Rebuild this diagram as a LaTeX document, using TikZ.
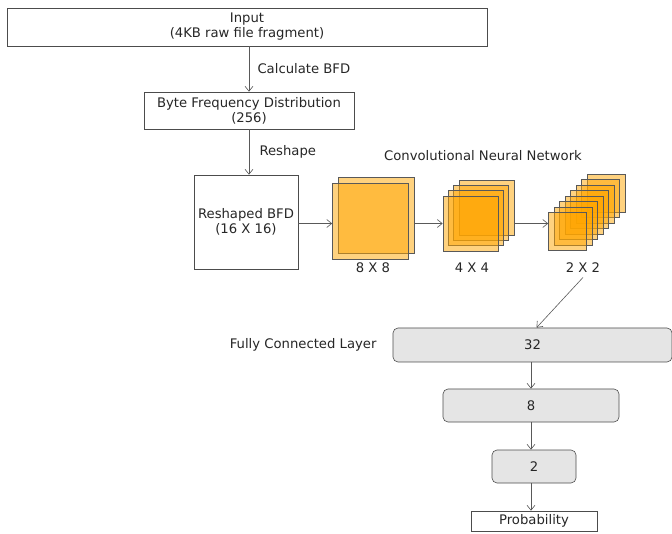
\documentclass[tikz,border=0pt]{standalone}
\usepackage{fontspec}
\setmainfont{DejaVu Sans}
\usepackage{tikz}
\usetikzlibrary{arrows.meta}
\definecolor{mapOrange}{HTML}{FFA500}

\tikzset{
    box/.style={draw=black!70, line width=0.6pt, align=center, inner sep=0pt},
    fcbox/.style={box, fill=black!10, rounded corners=5pt},
    fmap/.style={draw=black!65, line width=0.6pt, fill=mapOrange, fill opacity=0.5, inner sep=0pt},
    flow/.style={draw=black!65, line width=0.6pt, -{Straight Barb[length=5pt,width=8pt]}},
}

\begin{document}
\begin{tikzpicture}[x=1pt, y=-1pt, font=\fontsize{13.2}{15}\selectfont, text=black!85]
    \useasboundingbox (0,0) rectangle (672,534);

    % Draw the input part
    \node[box, minimum width=480pt, minimum height=38pt] (Input) at (247,27) {Input\\(4KB raw file fragment)};
    \node[box, minimum width=210pt, minimum height=37pt] (BFD) at (249,110.5) {Byte Frequency Distribution\\(256)};
    \node[box, minimum width=104pt, minimum height=94pt] (Reshaped) at (246,222) {Reshaped BFD\\(16 X 16)};

    % Connect the input part
    \draw[flow] (Input.south -| BFD.north) -- (BFD.north);
    \draw[flow] (BFD.south) -- (BFD.south |- Reshaped.north);
    \node[anchor=west] (CalcLabel) at (254,69) {Calculate BFD};
    \node[anchor=west] (ReshapeLabel) at (256,152) {Reshape};

    % Draw the feature maps, back to front
    \foreach \i in {1,0}
        \node[fmap, minimum size=76pt] (C1-\i) at (370.5+5.5*\i,221-5.5*\i) {};
    \foreach \i in {3,2,1,0}
        \node[fmap, minimum size=55pt] (C2-\i) at (470.5+5.33*\i,223.5-5.33*\i) {};
    \foreach \i in {7,6,...,0}
        \node[fmap, minimum size=38pt] (C3-\i) at (567.5+5.5*\i,231.5-5.5*\i) {};

    % Optional: Label the feature maps
    \node (CNNLabel) at (483,156) {Convolutional Neural Network};
    \node (L1) at (373,268) {8 X 8};
    \node (L2) at (472,268) {4 X 4};
    \node (L3) at (583,268) {2 X 2};

    % Connect the feature maps
    \draw[flow] (Reshaped.east |- C2-0.center) -- (C1-0.west |- C2-0.center);
    \draw[flow] (C1-1.east |- C2-0.center) -- (C2-0.west);
    \draw[flow] (C2-3.east |- C2-0.center) -- (C3-0.west |- C2-0.center);

    % Draw the fully connected layers
    \node[fcbox, minimum width=279pt, minimum height=34pt] (FC32) at (532.5,345) {32};
    \node[fcbox, minimum width=176pt, minimum height=33pt] (FC8) at (531,405.5) {8};
    \node[fcbox, minimum width=84pt, minimum height=33pt] (FC2) at (534,466.5) {2};
    \node[box, minimum width=126pt, minimum height=20pt] (Prob) at (534,521) {Probability};
    \node[anchor=east] (FCLabel) at (380,345) {Fully Connected Layer};

    % Connect the fully connected layers
    \draw[flow] ([yshift=-1pt]L3.south) -- ([xshift=4pt]FC32.north);
    \draw[flow] (FC32.south -| FC8.north) -- (FC8.north);
    \draw[flow] (FC8.south) -- (FC8.south |- FC2.north);
    \draw[flow] (FC8.south |- FC2.south) -- (FC8.south |- Prob.north);

\end{tikzpicture}
\end{document}
